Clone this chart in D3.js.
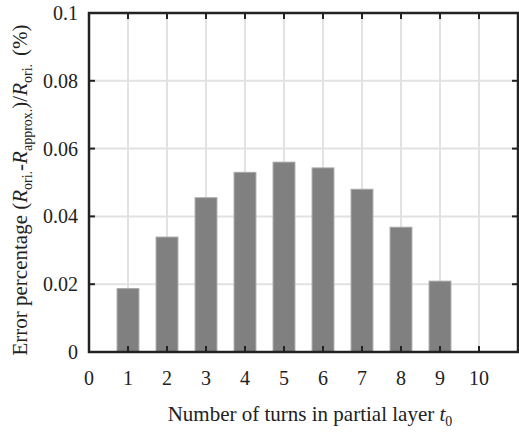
<html>
<head>
<script src="https://d3js.org/d3.v7.min.js"></script>
<style>
  body { margin: 0; background: #fff; }
  text { font-family: "Liberation Serif", "Times New Roman", serif; fill: #222; }
</style>
</head>
<body>
<svg width="519" height="432"></svg>
<script>
// data
var turns = [1, 2, 3, 4, 5, 6, 7, 8, 9];
var errors = [0.0187, 0.0339, 0.0455, 0.0530, 0.0560, 0.0543, 0.0480, 0.0368, 0.0209];
var xTicks = [0, 1, 2, 3, 4, 5, 6, 7, 8, 9, 10];
var yTicks = [0, 0.02, 0.04, 0.06, 0.08, 0.1];

var svg = d3.select("svg");
var pLeft = 89, pRight = 518, pTop = 13, pBottom = 352;

var x = d3.scaleLinear().domain([0, 11]).range([pLeft, pRight]);
var y = d3.scaleLinear().domain([0, 0.1]).range([pBottom, pTop]);

// grid
svg.append("g").selectAll("line")
  .data(xTicks.filter(function(d) { return d > 0; }))
  .enter().append("line")
  .attr("x1", function(d) { return x(d); })
  .attr("x2", function(d) { return x(d); })
  .attr("y1", pTop).attr("y2", pBottom)
  .attr("stroke", "#e2e2e2").attr("stroke-width", 2);

svg.append("g").selectAll("line")
  .data(yTicks.filter(function(d) { return d > 0 && d < 0.1; }))
  .enter().append("line")
  .attr("x1", pLeft).attr("x2", pRight)
  .attr("y1", function(d) { return y(d); })
  .attr("y2", function(d) { return y(d); })
  .attr("stroke", "#e2e2e2").attr("stroke-width", 2);

// bars
var bw = 0.56;
svg.append("g").selectAll("rect")
  .data(turns)
  .enter().append("rect")
  .attr("x", function(d) { return x(d - bw / 2); })
  .attr("width", x(bw) - x(0))
  .attr("y", function(d, i) { return y(errors[i]); })
  .attr("height", function(d, i) { return pBottom - y(errors[i]); })
  .attr("fill", "#808080")
  .attr("stroke", "#a6a6a6")
  .attr("stroke-width", 1);

// inner ticks on all four sides
var tl = 6;
var tk = svg.append("g").attr("stroke", "#222").attr("stroke-width", 2);
xTicks.filter(function(d) { return d > 0; }).forEach(function(d) {
  tk.append("line").attr("x1", x(d)).attr("x2", x(d)).attr("y1", pBottom).attr("y2", pBottom - tl);
  tk.append("line").attr("x1", x(d)).attr("x2", x(d)).attr("y1", pTop).attr("y2", pTop + tl);
});
yTicks.filter(function(d) { return d > 0 && d < 0.1; }).forEach(function(d) {
  tk.append("line").attr("x1", pLeft).attr("x2", pLeft + tl).attr("y1", y(d)).attr("y2", y(d));
  tk.append("line").attr("x1", pRight).attr("x2", pRight - tl).attr("y1", y(d)).attr("y2", y(d));
});

// frame
svg.append("rect")
  .attr("x", pLeft).attr("y", pTop)
  .attr("width", pRight - pLeft).attr("height", pBottom - pTop)
  .attr("fill", "none").attr("stroke", "#222").attr("stroke-width", 2.5);

// tick labels
svg.append("g").selectAll("text")
  .data(xTicks)
  .enter().append("text")
  .attr("x", function(d) { return x(d); })
  .attr("y", 385)
  .attr("text-anchor", "middle")
  .style("font-size", "20px")
  .text(function(d) { return d; });

svg.append("g").selectAll("text")
  .data(yTicks)
  .enter().append("text")
  .attr("x", 78)
  .attr("y", function(d) { return y(d) + 7; })
  .attr("text-anchor", "end")
  .style("font-size", "20px")
  .text(function(d) { return d; });

// x title
var xt = svg.append("text")
  .attr("x", 310).attr("y", 421)
  .attr("text-anchor", "middle")
  .style("font-size", "21px");
xt.append("tspan").text("Number of turns in partial layer ");
xt.append("tspan").style("font-style", "italic").text("t");
xt.append("tspan").attr("dy", 5).style("font-size", "14px").text("0");

// y title
var yt = svg.append("text")
  .attr("transform", "translate(27,190) rotate(-90)")
  .attr("text-anchor", "middle")
  .style("font-size", "21px");
yt.append("tspan").text("Error percentage (");
yt.append("tspan").style("font-style", "italic").text("R");
yt.append("tspan").attr("dy", 5).style("font-size", "14px").text("ori.");
yt.append("tspan").attr("dy", -5).text("-");
yt.append("tspan").style("font-style", "italic").text("R");
yt.append("tspan").attr("dy", 5).style("font-size", "14px").text("approx.");
yt.append("tspan").attr("dy", -5).text(")/");
yt.append("tspan").style("font-style", "italic").text("R");
yt.append("tspan").attr("dy", 5).style("font-size", "14px").text("ori.");
yt.append("tspan").attr("dy", -5).attr("dx", 8).text("(%)");
</script>
</body>
</html>
